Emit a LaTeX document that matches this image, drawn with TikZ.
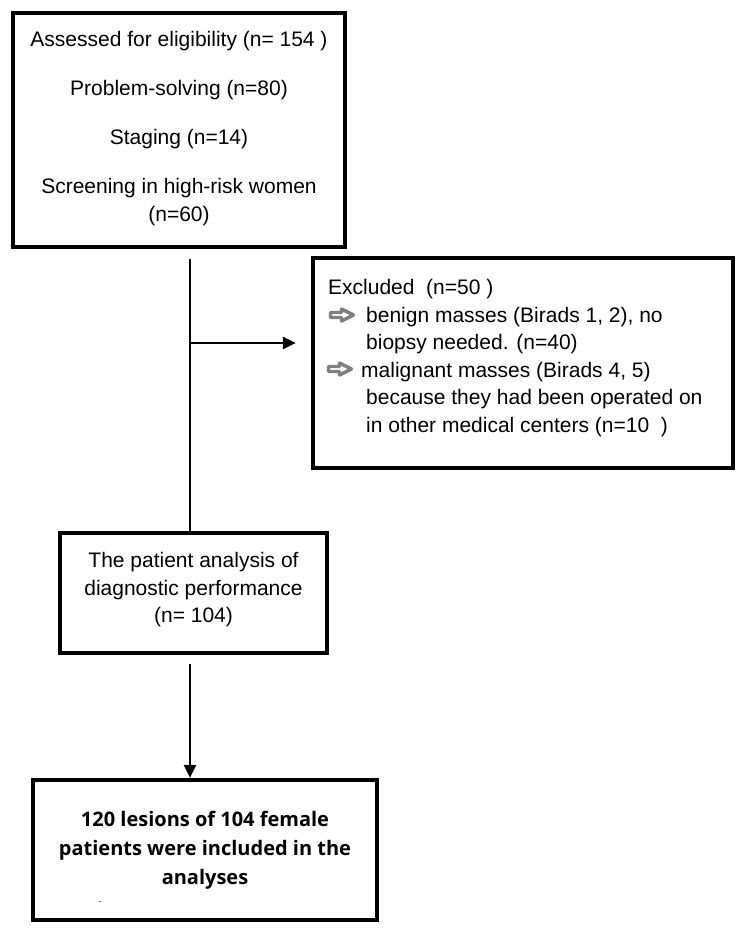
\documentclass[tikz,border=0pt]{standalone}
\usepackage{fontspec}
\setmainfont{Liberation Sans}
\newfontfamily\boldsans{Open Sans}
\usetikzlibrary{arrows.meta}

\tikzset{
	box/.style={draw, line width=4.5pt, inner sep=0pt, align=center},
	line/.style={line width=2.6pt},
	arr/.style={line width=2.6pt, -{Triangle[length=13pt,width=12pt]}},
	txt/.style={anchor=base west, inner sep=0pt, font=\fontsize{21}{28}\selectfont},
}
\newcommand{\grayarrow}[1]{%
	\draw[black!50, line width=3.4pt, fill=white, line join=round]
		#1 ++(1.5,-2.5) -- ++(11,0) -- ++(0,-3.5) -- ++(12,6) -- ++(-12,6)
		-- ++(0,-3.5) -- ++(-11,0) -- cycle;}
\newcommand{\lowdepth}[1]{\rule[-#1]{0pt}{0pt}}

\begin{document}
\begin{tikzpicture}[x=1pt,y=-1pt]
	\useasboundingbox (0,0) rectangle (745,943);
	% boxes
	\node[box, minimum width=332pt, minimum height=234pt, font=\fontsize{21}{28}\selectfont] (assess) at (179,130)
		{Assessed for eligibility (n= 154 )\\[21pt] Problem-solving (n=80)\\[21pt] Staging (n=14)\\[21pt] Screening in high-risk women\\(n=60)\lowdepth{8pt}};
	\node[box, minimum width=420pt, minimum height=210pt] (excl) at (523,363) {};
	\node[box, minimum width=267pt, minimum height=120pt, font=\fontsize{21}{27.5}\selectfont] (mid) at (193.5,593)
		{The patient analysis of\\diagnostic performance\\(n= 104)\lowdepth{10.5pt}};
	\node[box, minimum width=344pt, minimum height=140pt, font=\boldsans\bfseries\fontsize{20}{29}\selectfont] (final) at (205,850)
		{120 lesions of 104 female\\patients were included in the\\analyses};
	\node[inner sep=0pt, text=black!70, font=\fontsize{10}{10}\selectfont] (dash) at (100,903) {-};

	% excluded text
	\node[txt] (exhead) at (328,294) {Excluded\ \ (n=50 )};
	\grayarrow{(329,315)}
	\node[txt] (ex1) at (366,322) {benign masses (Birads 1, 2), no};
	\node[txt] (ex1b) at (366,349.5) {biopsy needed. (n=40)};
	\grayarrow{(327,369)}
	\node[txt] (ex2) at (361,377) {malignant masses (Birads 4, 5)};
	\node[txt] (ex2b) at (366,404.5) {because they had been operated on};
	\node[txt] (ex2c) at (366,432) {in other medical centers (n=10\ \ )};

	% connectors
	\coordinate (split) at (190,343);
	\draw[line, shorten <=10pt] (split |- assess.south) -- (split |- mid.north);
	\draw[arr, shorten >=15pt] (split) -- (split -| excl.west);
	\draw[arr, shorten <=9pt] (split |- mid.south) -- (split |- final.north);
\end{tikzpicture}
\end{document}
